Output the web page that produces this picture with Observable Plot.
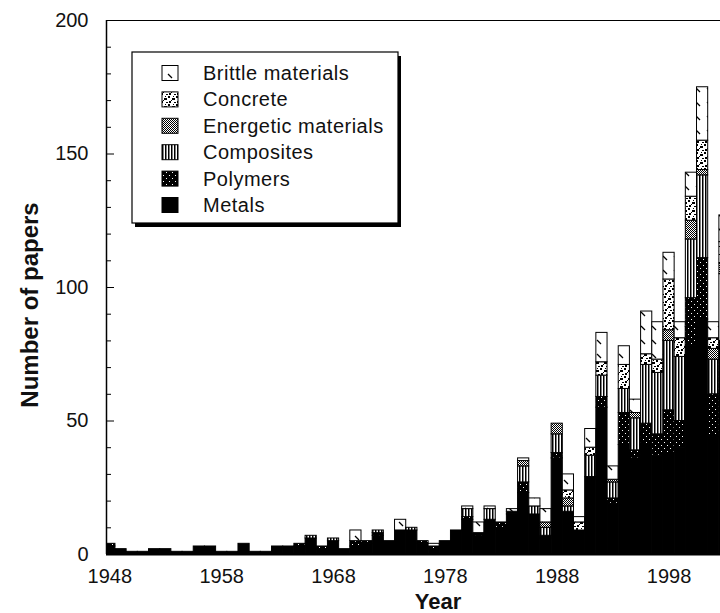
<!DOCTYPE html>
<html>
<head>
<meta charset="utf-8">
<script src="https://cdn.jsdelivr.net/npm/d3@7"></script>
<script src="https://cdn.jsdelivr.net/npm/@observablehq/plot@0.6"></script>
<style>
  html, body { margin: 0; padding: 0; background: #fff; }
  #chart { width: 720px; height: 613px; overflow: hidden; }
</style>
</head>
<body>
<div id="chart"></div>
<script>
// ---- data ----
const years = [1948,1949,1950,1951,1952,1953,1954,1955,1956,1957,1958,1959,1960,1961,1962,1963,1964,1965,1966,1967,
  1968,1969,1970,1971,1972,1973,1974,1975,1976,1977,1978,1979,1980,1981,1982,1983,1984,1985,1986,1987,
  1988,1989,1990,1991,1992,1993,1994,1995,1996,1997,1998,1999,2000,2001,2002,2003];

const materials = ["Metals", "Polymers", "Composites", "Energetic materials", "Concrete", "Brittle materials"];
const legendOrder = ["Brittle materials", "Concrete", "Energetic materials", "Composites", "Polymers", "Metals"];

const metals = [3,2,1,1,2,2,1,1,3,3,1,1,4,1,1,3,3,3,6,2,
  5,2,3,4,7,5,9,9,4,2,5,9,13,7,13,10,15,23,15,6,
  36,16,9,29,55,19,41,36,41,37,38,40,78,88,44,60];
const polymers = [1,0,0,0,0,0,0,0,0,0,0,0,0,0,0,0,0,1,0,1,
  0,0,2,1,1,0,0,0,1,1,0,0,1,1,0,2,1,4,0,1,
  2,0,0,0,4,2,12,3,8,8,16,10,18,23,16,20];
const composites = [0,0,0,0,0,0,0,0,0,0,0,0,0,0,0,0,0,0,1,0,
  1,0,0,0,1,0,0,1,0,0,0,0,3,0,4,0,0,6,3,3,
  7,2,0,8,8,6,9,12,22,23,26,24,22,31,13,25];
const energetic = [0,0,0,0,0,0,0,0,0,0,0,0,0,0,0,0,0,0,0,0,
  0,0,0,0,0,0,0,0,0,0,0,0,0,0,0,0,0,2,0,2,
  4,3,0,0,0,1,0,2,0,0,4,0,7,2,4,4];
const concrete = [0,0,0,0,0,0,0,0,0,0,0,0,0,0,0,0,0,0,0,0,
  0,0,0,0,0,0,0,0,0,0,0,0,0,0,0,0,0,0,0,0,
  0,3,3,3,5,0,9,0,4,5,19,7,9,11,4,8];
const brittle = [0,0,0,0,0,0,0,0,0,0,0,0,0,0,0,0,0,0,0,0,
  0,0,4,0,0,0,4,0,0,1,0,0,1,4,1,0,1,1,3,5,
  0,6,2,7,11,5,7,5,16,14,10,6,9,20,6,10];

const yTicks = [0, 50, 100, 150, 200];
const yMinorTicks = [10,20,30,40,60,70,80,90,110,120,130,140,160,170,180,190];
const xTicks = [1948, 1958, 1968, 1978, 1988, 1998];

const series = [metals, polymers, composites, energetic, concrete, brittle];
const fills = ["black", "url(#pat-polymers)", "url(#pat-composites)", "url(#pat-energetic)", "url(#pat-concrete)", "url(#pat-brittle)"];

// long table, stacked in material order (Metals at the bottom)
const table = [];
years.forEach((year, i) => {
  materials.forEach((m, j) => {
    const v = series[j][i];
    if (v > 0) table.push({year, material: m, value: v});
  });
});

const font = "'Liberation Sans', Arial, Helvetica, sans-serif";
const W = 720, H = 613, mL = 106, mR = 0, mT = 20, mB = 59;
const xDomain = [1947.7, 2002.6];
const yearsPerPx = (xDomain[1] - xDomain[0]) / (W - mL - mR);

const chart = Plot.plot({
  width: W,
  height: H,
  marginLeft: mL,
  marginRight: mR,
  marginTop: mT,
  marginBottom: mB,
  style: {fontFamily: font, background: "white", color: "#111"},
  x: {domain: xDomain, axis: null},
  y: {domain: [0, 200], axis: null},
  color: {domain: materials, range: fills},
  marks: [
    Plot.rectY(table, {
      x1: d => d.year - 0.5,
      x2: d => d.year + 0.5,
      y: "value",
      fill: "material",
      stroke: "black",
      strokeWidth: 1,
      clip: true
    }),
    Plot.ruleY([0], {stroke: "black", strokeWidth: 2}),
    Plot.ruleY([200], {stroke: "black", strokeWidth: 1}),
    Plot.ruleX([xDomain[0]], {stroke: "black", strokeWidth: 1.5}),
    // inward tick marks
    Plot.ruleY(yTicks, {y: d => d, x1: xDomain[0], x2: xDomain[0] + 8 * yearsPerPx, stroke: "black", strokeWidth: 1}),
    Plot.ruleY(yMinorTicks, {y: d => d, x1: xDomain[0], x2: xDomain[0] + 5 * yearsPerPx, stroke: "black", strokeWidth: 1}),
    Plot.axisY({ticks: yTicks, anchor: "left", tickSize: 0, tickPadding: 18, label: null, fontSize: 20, fontFamily: font}),
    Plot.axisX({ticks: xTicks, anchor: "bottom", tickSize: 0, tickPadding: 14, tickFormat: "d", label: null, fontSize: 20, fontFamily: font})
  ]
});

document.getElementById("chart").appendChild(chart);

// ---- patterns ----
const svg = d3.select(chart);
const defs = svg.insert("defs", ":first-child");

function pattern(id, w, h) {
  return defs.append("pattern").attr("id", id).attr("patternUnits", "userSpaceOnUse")
    .attr("width", w).attr("height", h);
}
// Polymers: black with white dots
let p = pattern("pat-polymers", 6, 6);
p.append("rect").attr("width", 6).attr("height", 6).attr("fill", "black");
p.append("rect").attr("x", 1).attr("y", 1).attr("width", 1).attr("height", 1).attr("fill", "white");
p.append("rect").attr("x", 4).attr("y", 4).attr("width", 1).attr("height", 1).attr("fill", "white");
// Composites: vertical stripes
p = pattern("pat-composites", 3, 3);
p.append("rect").attr("width", 3).attr("height", 3).attr("fill", "white");
p.append("rect").attr("width", 1.5).attr("height", 3).attr("fill", "black");
// Energetic: fine checker
p = pattern("pat-energetic", 2, 2);
p.append("rect").attr("width", 2).attr("height", 2).attr("fill", "white");
p.append("rect").attr("width", 1).attr("height", 1).attr("fill", "black");
p.append("rect").attr("x", 1).attr("y", 1).attr("width", 1).attr("height", 1).attr("fill", "black");
// Concrete: white with black blotches
p = pattern("pat-concrete", 8, 8);
p.append("rect").attr("width", 8).attr("height", 8).attr("fill", "white");
[[0,0,2,2],[4,2,3,2],[1,5,2,2],[6,6,2,1],[5,0,1,1],[3,4,1,1]].forEach(([x,y,w,h]) =>
  p.append("rect").attr("x", x).attr("y", y).attr("width", w).attr("height", h).attr("fill", "black"));
// Brittle: white with sparse short diagonal dashes
p = pattern("pat-brittle", 11, 14);
p.append("rect").attr("width", 11).attr("height", 14).attr("fill", "white");
p.append("path").attr("d", "M3,4L7,8").attr("stroke", "black").attr("stroke-width", 1.2);

// ---- legend ----
const lg = svg.append("g");
lg.append("rect").attr("x", 135).attr("y", 56).attr("width", 266).attr("height", 171).attr("fill", "black");
lg.append("rect").attr("x", 132).attr("y", 52).attr("width", 266).attr("height", 171)
  .attr("fill", "white").attr("stroke", "black").attr("stroke-width", 1.2);
legendOrder.forEach((m, i) => {
  const cy = 73 + i * 26.4;
  lg.append("rect").attr("x", 162).attr("y", cy - 7.5).attr("width", 16).attr("height", 15)
    .attr("fill", fills[materials.indexOf(m)]).attr("stroke", "black").attr("stroke-width", 1);
  lg.append("text").attr("x", 203).attr("y", cy).attr("dy", "0.35em")
    .attr("text-anchor", "start")
    .attr("font-family", font).attr("font-size", 20).attr("letter-spacing", 0.5)
    .attr("fill", "#111").text(m);
});

// ---- axis titles ----
svg.append("text")
  .attr("transform", "translate(38,305) rotate(-90)")
  .attr("text-anchor", "middle")
  .attr("font-family", font).attr("font-size", 24).attr("font-weight", "bold")
  .attr("fill", "#111").text("Number of papers");
svg.append("text")
  .attr("x", 438).attr("y", 609)
  .attr("text-anchor", "middle")
  .attr("font-family", font).attr("font-size", 22).attr("font-weight", "bold")
  .attr("fill", "#111").text("Year");
</script>
</body>
</html>
